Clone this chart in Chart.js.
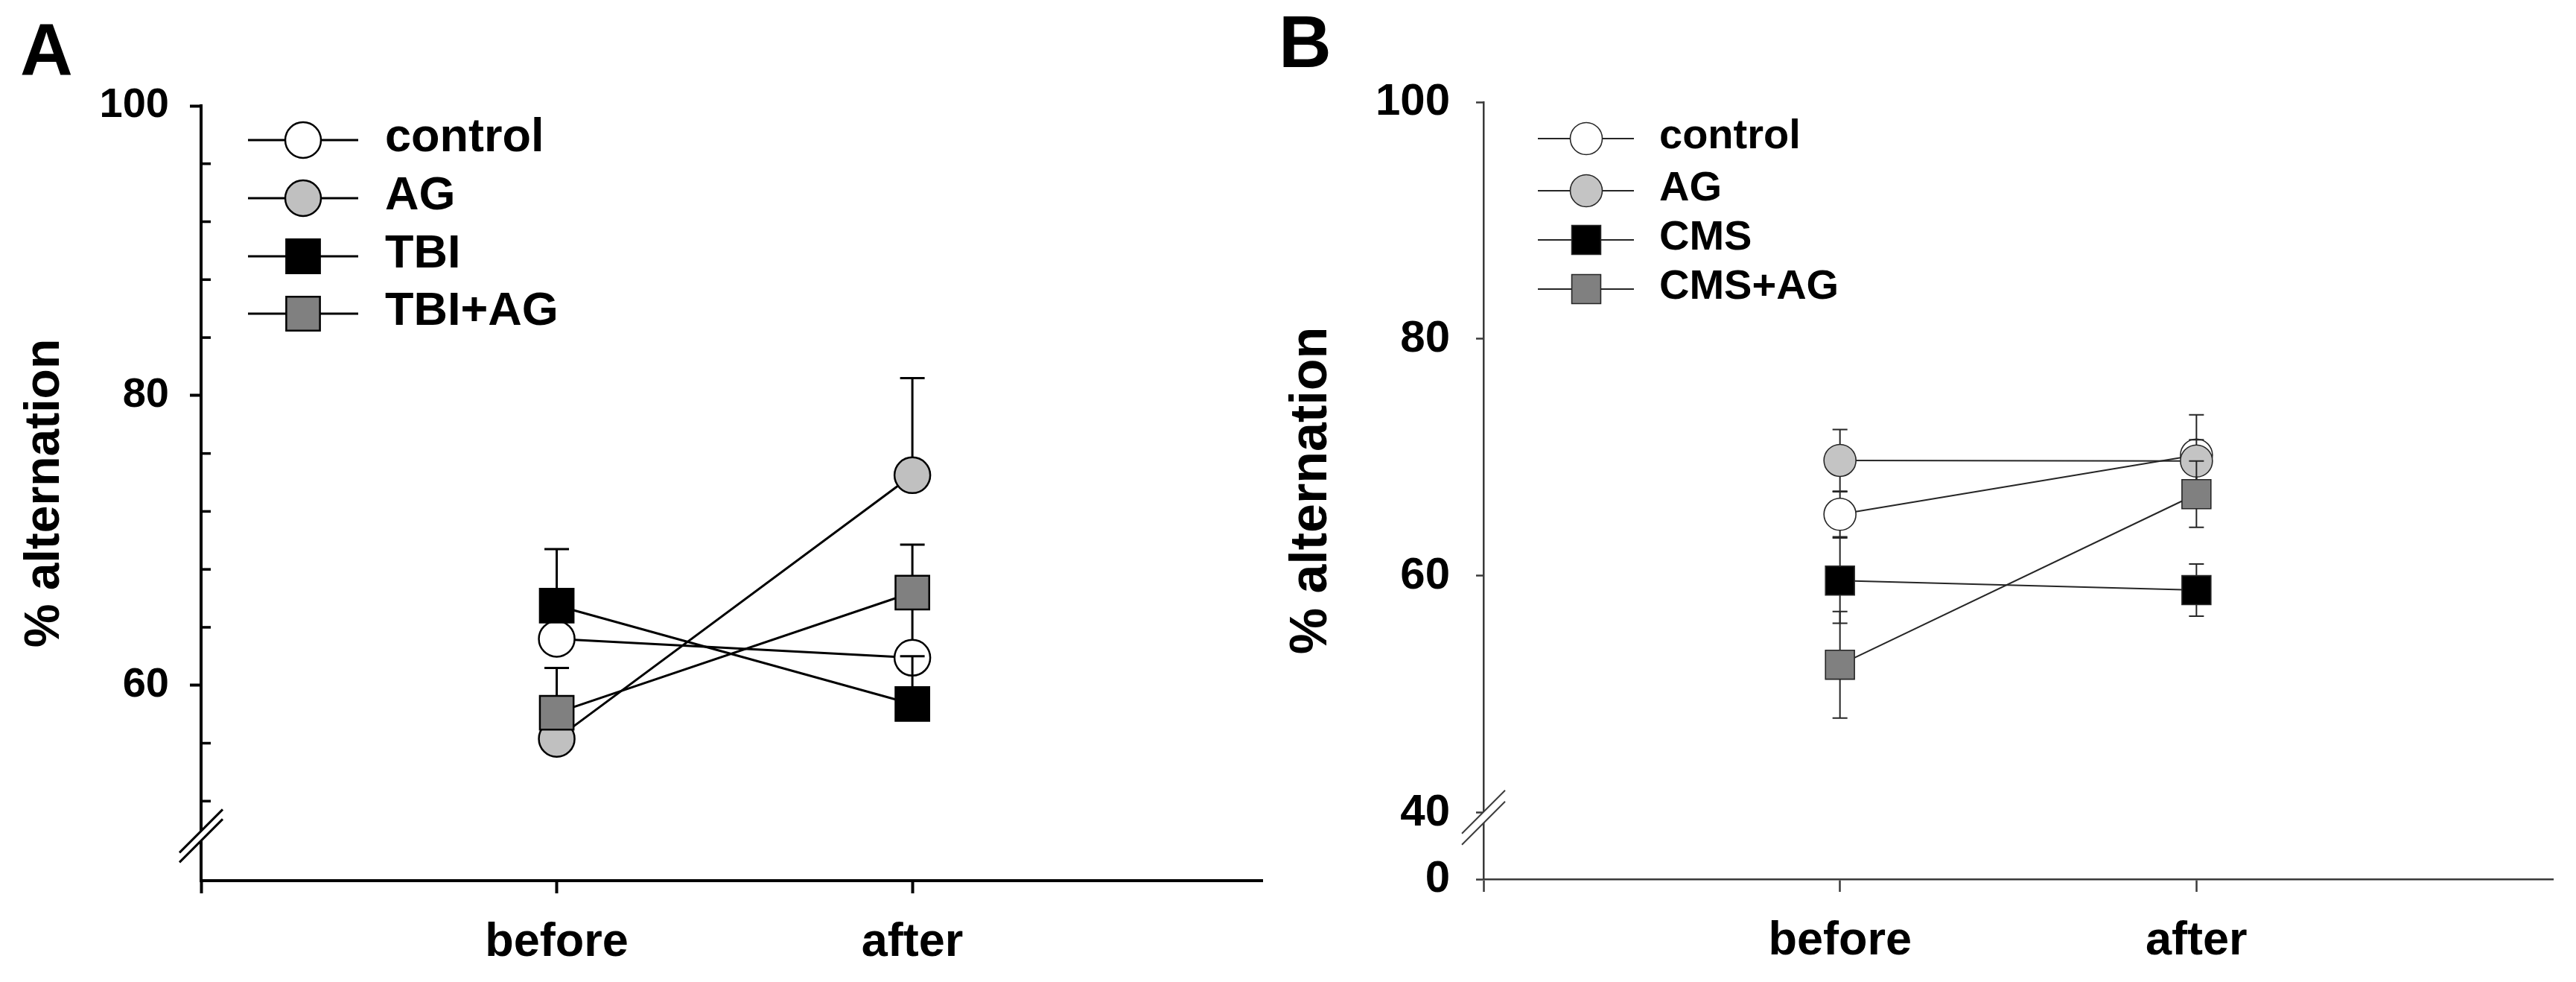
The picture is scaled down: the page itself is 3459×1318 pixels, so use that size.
<!DOCTYPE html>
<html>
<head>
<meta charset="utf-8">
<script src="https://cdn.jsdelivr.net/npm/chart.js@4.4.1/dist/chart.umd.min.js"></script>
<style>
  html, body { margin: 0; padding: 0; background: #fff; }
  #wrap { position: relative; width: 3459px; height: 1318px; overflow: hidden; }
  .panel { position: absolute; top: 0; }
</style>
</head>
<body>
<div id="wrap">
  <div class="panel" style="left:0;width:1730px;height:1318px"><canvas id="chartA" width="1730" height="1318"></canvas></div>
  <div class="panel" style="left:1690px;width:1769px;height:1318px"><canvas id="chartB" width="1769" height="1318"></canvas></div>
</div>
<script>
// x categories (plotted at x = 1, 2 on a linear axis)
const categories = ['before', 'after'];
const xPositions = [1, 2];

// panel A: means and (upward) SEM
const labelsA = ['control', 'AG', 'TBI', 'TBI+AG'];
const controlA = [63.2, 61.9];
const controlErrA = [2.3, 4.1];
const agA = [56.3, 74.5];
const agErrA = [2.0, 6.7];
const tbiA = [65.5, 58.7];
const tbiErrA = [3.9, 3.3];
const tbiAgA = [58.1, 66.4];
const tbiAgErrA = [3.1, 3.3];
const majorTicksA = [60, 80, 100];
const minorTicksA = [52, 56, 64, 68, 72, 76, 84, 88, 92, 96];

// panel B: means and (two-sided) SEM
const labelsB = ['control', 'AG', 'CMS', 'CMS+AG'];
const controlB = [65.2, 70.2];
const controlErrB = [1.9, 3.4];
const agB = [69.75, 69.7];
const agErrB = [2.6, 1.8];
const cmsB = [59.6, 58.8];
const cmsErrB = [3.6, 2.2];
const cmsAgB = [52.5, 66.9];
const cmsAgErrB = [4.5, 2.8];
const majorTicksB = [40, 60, 80, 100];

const FONT = '"Liberation Sans", Arial, Helvetica, sans-serif';
Chart.defaults.font.family = FONT;
Chart.defaults.color = '#000';

function points(vals) {
  return xPositions.map((x, i) => ({ x: x, y: vals[i] }));
}

// error bars are drawn just before each dataset, so later groups cover earlier ones
const errorBars = {
  id: 'errorBars',
  beforeDatasetDraw(chart, args, opts) {
    const ds = chart.data.datasets[args.index];
    if (!ds.errors) return;
    const ctx = chart.ctx;
    const xs = chart.scales.x, ys = chart.scales.y;
    ctx.save();
    ctx.strokeStyle = opts.color;
    ctx.lineWidth = opts.width;
    ds.data.forEach((p, j) => {
      const e = ds.errors[j];
      const px = xs.getPixelForValue(p.x);
      const yc = ys.getPixelForValue(p.y);
      const yt = ys.getPixelForValue(p.y + e);
      const yb = opts.both ? ys.getPixelForValue(p.y - e) : yc;
      ctx.beginPath();
      ctx.moveTo(px, yb);
      ctx.lineTo(px, yt);
      ctx.moveTo(px - opts.cap / 2, yt);
      ctx.lineTo(px + opts.cap / 2, yt);
      if (opts.both) {
        ctx.moveTo(px - opts.cap / 2, yb);
        ctx.lineTo(px + opts.cap / 2, yb);
      }
      ctx.stroke();
    });
    ctx.restore();
  }
};

// legend drawn as line + symbol + label, like the original software
const lineLegend = {
  id: 'lineLegend',
  afterDraw(chart, args, opts) {
    const ctx = chart.ctx;
    ctx.save();
    chart.data.datasets.forEach((ds, i) => {
      const y = opts.rows[i];
      ctx.strokeStyle = ds.borderColor;
      ctx.lineWidth = ds.borderWidth;
      ctx.beginPath();
      ctx.moveTo(opts.x1, y);
      ctx.lineTo(opts.x2, y);
      ctx.stroke();
      ctx.fillStyle = ds.pointBackgroundColor;
      ctx.strokeStyle = ds.pointBorderColor;
      ctx.lineWidth = ds.pointBorderWidth;
      Chart.helpers.drawPoint(ctx, {
        pointStyle: ds.pointStyle, radius: ds.pointRadius,
        borderWidth: ds.pointBorderWidth, rotation: 0
      }, opts.xm, y);
      ctx.fillStyle = '#000';
      ctx.font = 'bold ' + opts.size + 'px ' + FONT;
      ctx.textBaseline = 'middle';
      ctx.textAlign = 'left';
      ctx.fillText(ds.label, opts.xt, y - 2);
    });
    ctx.restore();
  }
};

// panel letter, inward minor ticks and the axis break marks
const decorations = {
  id: 'decorations',
  afterDraw(chart, args, opts) {
    const ctx = chart.ctx;
    const ys = chart.scales.y;
    const ax = chart.chartArea.left;
    ctx.save();
    ctx.fillStyle = '#000';
    ctx.font = 'bold 98px ' + FONT;
    ctx.textBaseline = 'alphabetic';
    ctx.textAlign = 'left';
    ctx.fillText(opts.letter, opts.letterX, opts.letterY);

    ctx.strokeStyle = opts.axisColor;
    ctx.lineWidth = opts.minorWidth;
    (opts.minor || []).forEach(v => {
      const y = ys.getPixelForValue(v);
      ctx.beginPath();
      ctx.moveTo(ax, y);
      ctx.lineTo(ax + opts.minorLen, y);
      ctx.stroke();
    });

    const yb = ys.getPixelForValue(opts.breakAt);
    const h = opts.breakGap / 2, d = 29;
    ctx.fillStyle = '#fff';
    ctx.beginPath();
    ctx.moveTo(ax - d, yb + d - h);
    ctx.lineTo(ax + d, yb - d - h);
    ctx.lineTo(ax + d, yb - d + h);
    ctx.lineTo(ax - d, yb + d + h);
    ctx.closePath();
    ctx.fill();
    ctx.lineWidth = opts.breakWidth;
    ctx.strokeStyle = opts.axisColor;
    [-h, h].forEach(o => {
      ctx.beginPath();
      ctx.moveTo(ax - d, yb + d + o);
      ctx.lineTo(ax + d, yb - d + o);
      ctx.stroke();
    });
    ctx.restore();
  }
};

function makeChart(id, cfg) {
  const yTicks = cfg.yTicks;
  return new Chart(document.getElementById(id), {
    type: 'line',
    data: { datasets: cfg.datasets },
    plugins: [errorBars, lineLegend, decorations],
    options: {
      responsive: false,
      animation: false,
      devicePixelRatio: 1,
      layout: { padding: { left: 0, top: cfg.top, right: cfg.right, bottom: 0 } },
      plugins: {
        legend: { display: false },
        tooltip: { enabled: false },
        errorBars: cfg.err,
        lineLegend: cfg.legend,
        decorations: cfg.deco
      },
      scales: {
        x: {
          type: 'linear',
          min: 0,
          max: cfg.xMax,
          afterBuildTicks: s => { s.ticks = [0, 1, 2].map(v => ({ value: v })); },
          afterFit: s => { s.height = cfg.xHeight; },
          ticks: {
            callback: v => (v >= 1 ? categories[v - 1] : ''),
            font: { size: 63, weight: 'bold' },
            padding: 29,
            maxRotation: 0,
            color: '#000'
          },
          grid: { drawOnChartArea: false, drawTicks: true, tickLength: 17, tickWidth: cfg.axisWidth, tickColor: cfg.axisColor },
          border: { display: true, color: cfg.axisColor, width: cfg.axisWidth }
        },
        y: {
          type: 'linear',
          min: cfg.yMin,
          max: 100,
          afterBuildTicks: s => { s.ticks = yTicks.map(v => ({ value: v })); },
          afterFit: s => { s.width = cfg.yWidth; },
          ticks: {
            callback: cfg.yLabel,
            font: { size: cfg.tickSize, weight: 'bold' },
            padding: cfg.tickPad,
            color: '#000'
          },
          grid: { drawOnChartArea: false, drawTicks: true, tickLength: cfg.tickLen, tickWidth: cfg.axisWidth, tickColor: cfg.axisColor },
          border: { display: true, color: cfg.axisColor, width: cfg.axisWidth },
          title: {
            display: true,
            text: '% alternation',
            font: { size: cfg.titleSize, weight: 'bold' },
            padding: { top: cfg.titlePad, bottom: 0 },
            color: '#000'
          }
        }
      }
    }
  });
}

function series(label, vals, errs, style, fill, order, st) {
  return {
    label: label,
    data: points(vals),
    errors: errs,
    order: order,
    borderColor: st.line,
    borderWidth: st.lineWidth,
    pointStyle: style,
    pointRadius: style === 'circle' ? st.circle : st.rect,
    pointHoverRadius: style === 'circle' ? st.circle : st.rect,
    pointBackgroundColor: fill,
    pointBorderColor: st.line,
    pointBorderWidth: st.markerBorder,
    tension: 0,
    fill: false
  };
}

const styleA = { line: '#000', lineWidth: 3, circle: 24, rect: 32, markerBorder: 2.5 };
const styleB = { line: '#262626', lineWidth: 2, circle: 21.5, rect: 27.5, markerBorder: 1.6 };

makeChart('chartA', {
  datasets: [
    series(labelsA[0], controlA, controlErrA, 'circle', '#ffffff', 4, styleA),
    series(labelsA[1], agA, agErrA, 'circle', '#c0c0c0', 3, styleA),
    series(labelsA[2], tbiA, tbiErrA, 'rect', '#000000', 2, styleA),
    series(labelsA[3], tbiAgA, tbiAgErrA, 'rect', '#808080', 1, styleA)
  ],
  top: 142, right: 24, xMax: 2.985, xHeight: 136,
  yMin: 46.51, yTicks: majorTicksA, yWidth: 270,
  yLabel: v => String(v),
  tickSize: 56, tickPad: 28, tickLen: 15,
  titleSize: 66, titlePad: 21,
  axisColor: '#000', axisWidth: 4,
  err: { color: '#000', width: 3, cap: 33, both: false },
  legend: { x1: 333, x2: 481, xm: 407, xt: 517, rows: [188, 266, 344, 421], size: 63 },
  deco: { letter: 'A', letterX: 27, letterY: 100, minor: minorTicksA, minorLen: 13, minorWidth: 3.5,
          axisColor: '#000', breakAt: 49.6, breakGap: 13, breakWidth: 3 }
});

makeChart('chartB', {
  datasets: [
    series(labelsB[0], controlB, controlErrB, 'circle', '#ffffff', 4, styleB),
    series(labelsB[1], agB, agErrB, 'circle', '#c4c4c4', 3, styleB),
    series(labelsB[2], cmsB, cmsErrB, 'rect', '#000000', 2, styleB),
    series(labelsB[3], cmsAgB, cmsAgErrB, 'rect', '#808080', 1, styleB)
  ],
  top: 137, right: 31, xMax: 3, xHeight: 138,
  yMin: 34.4, yTicks: [34.4].concat(majorTicksB), yWidth: 302,
  yLabel: v => (v < 40 ? '0' : String(v)),
  tickSize: 60, tickPad: 35, tickLen: 10,
  titleSize: 70, titlePad: 30,
  axisColor: '#3a3a3a', axisWidth: 2.5,
  err: { color: '#262626', width: 2, cap: 20, both: true },
  legend: { x1: 375, x2: 504, xm: 440, xt: 538, rows: [186, 256, 322, 388], size: 56 },
  deco: { letter: 'B', letterX: 27, letterY: 90, minor: [], minorLen: 0, minorWidth: 0,
          axisColor: '#3a3a3a', breakAt: 39.6, breakGap: 15, breakWidth: 2 }
});
</script>
</body>
</html>
